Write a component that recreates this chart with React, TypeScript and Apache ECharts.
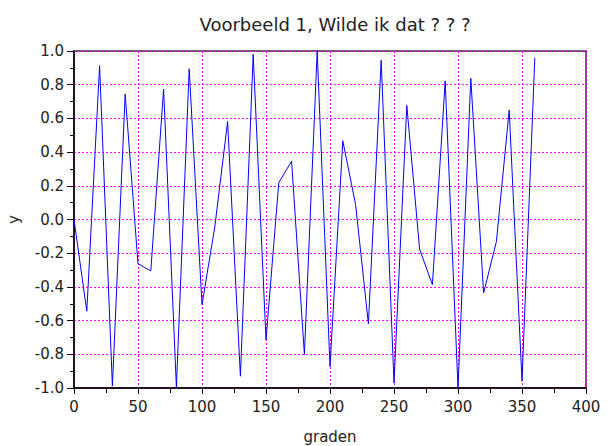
import React, { useEffect, useRef } from "react";
import * as echarts from "echarts";

const degrees = [0, 10, 20, 30, 40, 50, 60, 70, 80, 90, 100, 110, 120, 130, 140, 150, 160, 170, 180, 190, 200, 210, 220, 230, 240, 250, 260, 270, 280, 290, 300, 310, 320, 330, 340, 350, 360];
const yValues = [0.0, -0.544, 0.913, -0.988, 0.745, -0.262, -0.305, 0.774, -0.994, 0.894, -0.506, -0.044, 0.581, -0.930, 0.980, -0.715, 0.219, 0.346, -0.801, 0.999, -0.873, 0.467, 0.089, -0.619, 0.945, -0.970, 0.677, -0.176, -0.387, 0.822, -1.0, 0.838, -0.436, -0.131, 0.649, -0.959, 0.959];

export default function App() {
  const ref = useRef<HTMLDivElement>(null);
  useEffect(() => {
    if (!ref.current) return;
    const chart = echarts.init(ref.current, undefined, { renderer: "svg" });
    const font = "'DejaVu Sans', sans-serif";
    chart.setOption({
      animation: false,
      backgroundColor: "#ffffff",
      title: {
        text: "Voorbeeld 1, Wilde ik dat ? ? ?",
        left: 330,
        textAlign: "center",
        top: 10,
        textStyle: { fontFamily: font, fontSize: 18, fontWeight: "normal", color: "#222" },
      },
      grid: {
        left: 74,
        right: 24,
        top: 51,
        bottom: 58,
        containLabel: false,
        outerBoundsMode: "none",
        show: true,
        borderColor: "#3a2a3a",
        borderWidth: 1.5,
      },
      xAxis: {
        type: "value",
        min: 0,
        max: 400,
        interval: 50,
        name: "graden",
        nameLocation: "middle",
        nameGap: 41,
        nameTextStyle: { fontFamily: font, fontSize: 15, color: "#222" },
        axisLine: { show: true, onZero: false, lineStyle: { color: "#000", width: 1.5 } },
        axisTick: { show: true, inside: false, length: 6, lineStyle: { color: "#000" } },
        minorTick: { show: true, splitNumber: 2, length: 5, lineStyle: { color: "#000" } },
        axisLabel: { fontFamily: font, fontSize: 15, color: "#222", margin: 11 },
        splitLine: { show: true, lineStyle: { color: "#ff00ff", type: [2, 2], width: 1 } },
      },
      yAxis: {
        type: "value",
        min: -1,
        max: 1,
        interval: 0.2,
        name: "y",
        nameLocation: "middle",
        nameGap: 53,
        nameTextStyle: { fontFamily: font, fontSize: 15, color: "#222" },
        axisLine: { show: true, onZero: false, lineStyle: { color: "#000", width: 1.5 } },
        axisTick: { show: true, inside: false, length: 7, lineStyle: { color: "#000" } },
        minorTick: { show: true, splitNumber: 2, length: 4, lineStyle: { color: "#000" } },
        axisLabel: {
          fontFamily: font,
          fontSize: 15,
          color: "#222",
          margin: 10,
          formatter: (v: number) => v.toFixed(1),
        },
        splitLine: { show: true, lineStyle: { color: "#ff00ff", type: [2, 2], width: 1 } },
      },
      series: [
        {
          type: "line",
          data: degrees.map((d, i) => [d, yValues[i]]),
          showSymbol: false,
          symbol: "none",
          lineStyle: { color: "#0000ff", width: 1 },
        },
      ],
    });
    return () => chart.dispose();
  }, []);
  return <div ref={ref} style={{ width: 610, height: 446, position: "absolute", left: 0, top: 0 }} />;
}
